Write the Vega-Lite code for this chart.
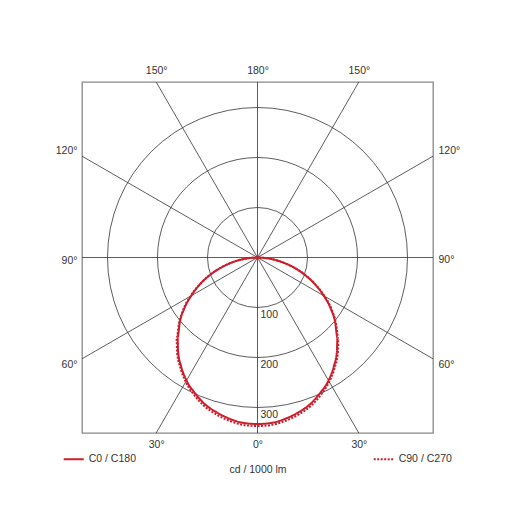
{
  "$schema": "https://vega.github.io/schema/vega-lite/v6.json",
  "width": 351,
  "height": 351,
  "autosize": {"type": "none"},
  "padding": {"left": 82, "top": 82, "right": 82, "bottom": 82},
  "background": "white",
  "config": {
    "font": "Liberation Sans",
    "view": {"stroke": "#888888", "strokeWidth": 1.3},
    "axis": {"domain": false, "ticks": false, "tickSize": 0, "grid": false, "labelFont": "Liberation Sans", "labelFontSize": 10.5, "labelColor": "#333333", "titleFont": "Liberation Sans", "titleFontSize": 10.5, "titleFontWeight": "normal", "titleColor": "#333333", "labelFlush": false, "labelOverlap": false},
    "legend": {"orient": "none", "legendX": -19.3, "legendY": 366, "direction": "horizontal", "symbolType": "stroke", "symbolSize": 400, "symbolStrokeWidth": 2, "labelFont": "Liberation Sans", "labelFontSize": 10.5, "labelColor": "#333333", "columnPadding": 233, "padding": 0, "labelOffset": 4}
  },
  "resolve": {"axis": {"x": "independent", "y": "independent"}},
  "layer": [
    {
      "data": {"values": [
        {"x": 0, "y": -351, "x2": 0, "y2": 351},
        {"x": -351, "y": 0, "x2": 351, "y2": 0},
        {"x": -202.65, "y": -351, "x2": 202.65, "y2": 351},
        {"x": 202.65, "y": -351, "x2": -202.65, "y2": 351},
        {"x": -351, "y": -202.65, "x2": 351, "y2": 202.65},
        {"x": 351, "y": -202.65, "x2": -351, "y2": 202.65}
      ]},
      "mark": {"type": "rule", "stroke": "#333333", "strokeWidth": 0.8},
      "encoding": {
        "x": {"field": "x", "type": "quantitative", "scale": {"domain": [-351, 351], "nice": false, "zero": false},
              "axis": {"orient": "bottom", "values": [-202.65, 0, 202.65], "labelExpr": "datum.value == 0 ? '0°' : '30°'", "labelPadding": 6, "title": "cd / 1000 lm", "titlePadding": 15}},
        "y": {"field": "y", "type": "quantitative", "scale": {"domain": [-351, 351], "nice": false, "zero": false},
              "axis": {"orient": "left", "values": [213.6, -5, -213], "labelExpr": "datum.value > 100 ? '120°' : (datum.value < -100 ? '60°' : '90°')", "labelPadding": 5, "title": null}},
        "x2": {"field": "x2"},
        "y2": {"field": "y2"}
      }
    },
    {
      "data": {"values": [{"r": 100}, {"r": 200}, {"r": 300}]},
      "mark": {"type": "point", "shape": "circle", "filled": false, "stroke": "#333333", "strokeWidth": 0.8, "opacity": 1},
      "encoding": {
        "x": {"datum": 0, "type": "quantitative", "scale": {"domain": [-351, 351], "nice": false, "zero": false},
              "axis": {"orient": "top", "values": [-202.65, 0, 202.65], "labelExpr": "datum.value == 0 ? '180°' : '150°'", "labelPadding": 7, "title": null}},
        "y": {"datum": 0, "type": "quantitative", "scale": {"domain": [-351, 351], "nice": false, "zero": false},
              "axis": {"orient": "right", "values": [213.6, -3, -213], "labelExpr": "datum.value > 100 ? '120°' : (datum.value < -100 ? '60°' : '90°')", "labelPadding": 5, "title": null}},
        "size": {"field": "r", "type": "quantitative", "scale": {"type": "pow", "exponent": 2, "domain": [0, 351], "range": [0, 123201]}, "legend": null}
      }
    },
    {
      "data": {"values": [
        {"series": "C0 / C180", "gamma": -90, "cd": 0, "x": 0, "y": 0},
        {"series": "C0 / C180", "gamma": -85, "cd": 22, "x": -21.9, "y": -1.9},
        {"series": "C0 / C180", "gamma": -80, "cd": 47, "x": -46.3, "y": -8.2},
        {"series": "C0 / C180", "gamma": -75, "cd": 73, "x": -70.5, "y": -18.9},
        {"series": "C0 / C180", "gamma": -70, "cd": 100, "x": -94.0, "y": -34.2},
        {"series": "C0 / C180", "gamma": -65, "cd": 127, "x": -115.1, "y": -53.7},
        {"series": "C0 / C180", "gamma": -60, "cd": 153, "x": -132.5, "y": -76.5},
        {"series": "C0 / C180", "gamma": -55, "cd": 179, "x": -146.6, "y": -102.7},
        {"series": "C0 / C180", "gamma": -50, "cd": 203, "x": -155.5, "y": -130.5},
        {"series": "C0 / C180", "gamma": -45, "cd": 226, "x": -159.8, "y": -159.8},
        {"series": "C0 / C180", "gamma": -40, "cd": 247, "x": -158.8, "y": -189.2},
        {"series": "C0 / C180", "gamma": -35, "cd": 266, "x": -152.6, "y": -217.9},
        {"series": "C0 / C180", "gamma": -30, "cd": 284, "x": -142.0, "y": -246.0},
        {"series": "C0 / C180", "gamma": -25, "cd": 298, "x": -125.9, "y": -270.1},
        {"series": "C0 / C180", "gamma": -20, "cd": 311, "x": -106.4, "y": -292.2},
        {"series": "C0 / C180", "gamma": -15, "cd": 320, "x": -82.8, "y": -309.1},
        {"series": "C0 / C180", "gamma": -10, "cd": 327, "x": -56.8, "y": -322.0},
        {"series": "C0 / C180", "gamma": -5, "cd": 332, "x": -28.9, "y": -330.7},
        {"series": "C0 / C180", "gamma": 0, "cd": 333, "x": 0, "y": -333},
        {"series": "C0 / C180", "gamma": 5, "cd": 332, "x": 28.9, "y": -330.7},
        {"series": "C0 / C180", "gamma": 10, "cd": 327, "x": 56.8, "y": -322.0},
        {"series": "C0 / C180", "gamma": 15, "cd": 320, "x": 82.8, "y": -309.1},
        {"series": "C0 / C180", "gamma": 20, "cd": 311, "x": 106.4, "y": -292.2},
        {"series": "C0 / C180", "gamma": 25, "cd": 298, "x": 125.9, "y": -270.1},
        {"series": "C0 / C180", "gamma": 30, "cd": 284, "x": 142.0, "y": -246.0},
        {"series": "C0 / C180", "gamma": 35, "cd": 266, "x": 152.6, "y": -217.9},
        {"series": "C0 / C180", "gamma": 40, "cd": 247, "x": 158.8, "y": -189.2},
        {"series": "C0 / C180", "gamma": 45, "cd": 226, "x": 159.8, "y": -159.8},
        {"series": "C0 / C180", "gamma": 50, "cd": 203, "x": 155.5, "y": -130.5},
        {"series": "C0 / C180", "gamma": 55, "cd": 179, "x": 146.6, "y": -102.7},
        {"series": "C0 / C180", "gamma": 60, "cd": 153, "x": 132.5, "y": -76.5},
        {"series": "C0 / C180", "gamma": 65, "cd": 127, "x": 115.1, "y": -53.7},
        {"series": "C0 / C180", "gamma": 70, "cd": 100, "x": 94.0, "y": -34.2},
        {"series": "C0 / C180", "gamma": 75, "cd": 73, "x": 70.5, "y": -18.9},
        {"series": "C0 / C180", "gamma": 80, "cd": 47, "x": 46.3, "y": -8.2},
        {"series": "C0 / C180", "gamma": 85, "cd": 22, "x": 21.9, "y": -1.9},
        {"series": "C0 / C180", "gamma": 90, "cd": 0, "x": 0, "y": 0},
        {"series": "C90 / C270", "gamma": -90, "cd": 0, "x": 0, "y": 0},
        {"series": "C90 / C270", "gamma": -85, "cd": 22, "x": -21.9, "y": -1.9},
        {"series": "C90 / C270", "gamma": -80, "cd": 47, "x": -46.3, "y": -8.2},
        {"series": "C90 / C270", "gamma": -75, "cd": 74, "x": -71.5, "y": -19.2},
        {"series": "C90 / C270", "gamma": -70, "cd": 101, "x": -94.9, "y": -34.5},
        {"series": "C90 / C270", "gamma": -65, "cd": 128, "x": -116.0, "y": -54.1},
        {"series": "C90 / C270", "gamma": -60, "cd": 155, "x": -134.2, "y": -77.5},
        {"series": "C90 / C270", "gamma": -55, "cd": 181, "x": -148.3, "y": -103.8},
        {"series": "C90 / C270", "gamma": -50, "cd": 205, "x": -157.0, "y": -131.8},
        {"series": "C90 / C270", "gamma": -45, "cd": 229, "x": -161.9, "y": -161.9},
        {"series": "C90 / C270", "gamma": -40, "cd": 250, "x": -160.7, "y": -191.5},
        {"series": "C90 / C270", "gamma": -35, "cd": 269, "x": -154.3, "y": -220.3},
        {"series": "C90 / C270", "gamma": -30, "cd": 287, "x": -143.5, "y": -248.5},
        {"series": "C90 / C270", "gamma": -25, "cd": 302, "x": -127.6, "y": -273.7},
        {"series": "C90 / C270", "gamma": -20, "cd": 315, "x": -107.7, "y": -296.0},
        {"series": "C90 / C270", "gamma": -15, "cd": 324, "x": -83.9, "y": -313.0},
        {"series": "C90 / C270", "gamma": -10, "cd": 331, "x": -57.5, "y": -326.0},
        {"series": "C90 / C270", "gamma": -5, "cd": 336, "x": -29.3, "y": -334.7},
        {"series": "C90 / C270", "gamma": 0, "cd": 337, "x": 0, "y": -337},
        {"series": "C90 / C270", "gamma": 5, "cd": 336, "x": 29.3, "y": -334.7},
        {"series": "C90 / C270", "gamma": 10, "cd": 331, "x": 57.5, "y": -326.0},
        {"series": "C90 / C270", "gamma": 15, "cd": 324, "x": 83.9, "y": -313.0},
        {"series": "C90 / C270", "gamma": 20, "cd": 315, "x": 107.7, "y": -296.0},
        {"series": "C90 / C270", "gamma": 25, "cd": 302, "x": 127.6, "y": -273.7},
        {"series": "C90 / C270", "gamma": 30, "cd": 287, "x": 143.5, "y": -248.5},
        {"series": "C90 / C270", "gamma": 35, "cd": 269, "x": 154.3, "y": -220.3},
        {"series": "C90 / C270", "gamma": 40, "cd": 250, "x": 160.7, "y": -191.5},
        {"series": "C90 / C270", "gamma": 45, "cd": 229, "x": 161.9, "y": -161.9},
        {"series": "C90 / C270", "gamma": 50, "cd": 205, "x": 157.0, "y": -131.8},
        {"series": "C90 / C270", "gamma": 55, "cd": 181, "x": 148.3, "y": -103.8},
        {"series": "C90 / C270", "gamma": 60, "cd": 155, "x": 134.2, "y": -77.5},
        {"series": "C90 / C270", "gamma": 65, "cd": 128, "x": 116.0, "y": -54.1},
        {"series": "C90 / C270", "gamma": 70, "cd": 101, "x": 94.9, "y": -34.5},
        {"series": "C90 / C270", "gamma": 75, "cd": 74, "x": 71.5, "y": -19.2},
        {"series": "C90 / C270", "gamma": 80, "cd": 47, "x": 46.3, "y": -8.2},
        {"series": "C90 / C270", "gamma": 85, "cd": 22, "x": 21.9, "y": -1.9},
        {"series": "C90 / C270", "gamma": 90, "cd": 0, "x": 0, "y": 0}
      ]},
      "mark": {"type": "line", "strokeWidth": 2, "interpolate": "monotone"},
      "encoding": {
        "x": {"field": "x", "type": "quantitative", "scale": {"domain": [-351, 351], "nice": false, "zero": false}, "axis": null},
        "y": {"field": "y", "type": "quantitative", "scale": {"domain": [-351, 351], "nice": false, "zero": false}, "axis": null},
        "order": {"field": "gamma", "type": "quantitative"},
        "color": {"field": "series", "type": "nominal", "scale": {"domain": ["C0 / C180", "C90 / C270"], "range": ["#d01c2a", "#d01c2a"]}, "legend": {"title": null}},
        "strokeDash": {"field": "series", "type": "nominal", "scale": {"domain": ["C0 / C180", "C90 / C270"], "range": [[1, 0], [2, 1.5]]}, "legend": {"title": null}}
      }
    },
    {
      "data": {"values": [
        {"label": "100", "y": -100},
        {"label": "200", "y": -200},
        {"label": "300", "y": -300}
      ]},
      "mark": {"type": "text", "align": "left", "baseline": "top", "dx": 3, "dy": 2, "fontSize": 10.5, "font": "Liberation Sans", "color": "#333333"},
      "encoding": {
        "x": {"datum": 0, "type": "quantitative", "scale": {"domain": [-351, 351], "nice": false, "zero": false}, "axis": null},
        "y": {"field": "y", "type": "quantitative", "scale": {"domain": [-351, 351], "nice": false, "zero": false}, "axis": null},
        "text": {"field": "label"}
      }
    }
  ]
}
